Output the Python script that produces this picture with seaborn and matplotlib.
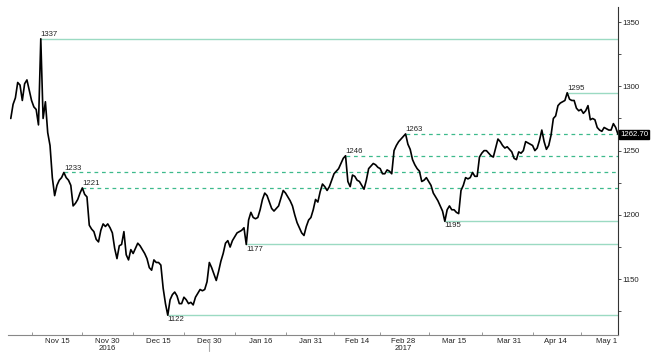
import numpy as np
import pandas as pd
import matplotlib
matplotlib.use("Agg")
import matplotlib.pyplot as plt
import seaborn as sns

# ---------------- data ----------------
start_date = "2016-11-01"
end_date = "2017-05-03"
# two readings per business day (morning, afternoon)
prices = [
    1275, 1286, 1291, 1303, 1301, 1289, 1302, 1305, 1297, 1289,
    1284, 1282, 1270, 1337, 1275, 1288, 1264, 1254, 1229, 1215,
    1223, 1227, 1229, 1233, 1229, 1227, 1223, 1207, 1209, 1212,
    1217, 1221, 1216, 1214, 1192, 1189, 1187, 1181, 1179, 1188,
    1193, 1191, 1193, 1190, 1186, 1174, 1166, 1176, 1177, 1187,
    1169, 1165, 1173, 1170, 1174, 1178, 1176, 1173, 1170, 1166,
    1159, 1157, 1165, 1163, 1163, 1161, 1143, 1131, 1122, 1134,
    1138, 1140, 1137, 1131, 1131, 1136, 1134, 1131, 1132, 1130,
    1136, 1139, 1142, 1141, 1142, 1148, 1163, 1159, 1154, 1149,
    1156, 1164, 1170, 1178, 1180, 1175, 1180, 1183, 1186, 1187,
    1188, 1190, 1177, 1196, 1202, 1198, 1197, 1198, 1204, 1212,
    1217, 1215, 1210, 1205, 1203, 1205, 1207, 1213, 1219, 1217,
    1214, 1211, 1207, 1200, 1194, 1190, 1186, 1184, 1191, 1196,
    1198, 1204, 1212, 1210, 1218, 1224, 1222, 1219, 1222, 1227,
    1232, 1234, 1236, 1240, 1244, 1246, 1226, 1222, 1231, 1230,
    1227, 1226, 1223, 1220, 1227, 1236, 1238, 1240, 1239, 1237,
    1236, 1232, 1232, 1235, 1234, 1232, 1250, 1254, 1257, 1259,
    1261, 1263, 1255, 1251, 1243, 1239, 1236, 1234, 1226, 1227,
    1229, 1226, 1223, 1217, 1214, 1211, 1207, 1203, 1195, 1204,
    1207, 1204, 1204, 1202, 1201, 1219, 1223, 1229, 1228, 1229,
    1233, 1230, 1230, 1245, 1248, 1250, 1250, 1248, 1246, 1245,
    1252, 1259, 1257, 1254, 1252, 1253, 1251, 1249, 1244, 1243,
    1249, 1248, 1250, 1257, 1256, 1255, 1254, 1250, 1252, 1258,
    1266, 1257, 1251, 1254, 1262, 1275, 1277, 1285, 1287, 1288,
    1289, 1295, 1290, 1289, 1289, 1283, 1281, 1282, 1279, 1281,
    1285, 1274, 1275, 1274, 1268, 1266, 1265, 1268, 1267, 1266,
    1266, 1271, 1268, 1262.7,
]

level_values = [1337, 1233, 1221, 1122, 1177, 1246, 1263, 1195, 1295]
level_times = ["2016-11-09 12:00", "2016-11-16 12:00", "2016-11-22 12:00",
               "2016-12-19 00:00", "2017-01-11 00:00", "2017-02-09 12:00",
               "2017-02-28 12:00", "2017-03-13 00:00", "2017-04-18 12:00"]
level_styles = ["solid", "dashed", "dashed", "solid", "solid", "dashed",
                "dashed", "solid", "solid"]
level_kind = ["high", "high", "high", "low", "low", "high", "high", "low", "high"]

tick_dates = ["2016-11-15", "2016-11-30", "2016-12-15", "2016-12-30",
              "2017-01-16", "2017-01-31", "2017-02-14", "2017-02-28",
              "2017-03-15", "2017-03-31", "2017-04-14", "2017-05-01"]
tick_labels = ["Nov 15", "Nov 30\n2016", "Dec 15", "Dec 30", "Jan 16", "Jan 31",
               "Feb 14", "Feb 28\n2017", "Mar 15", "Mar 31", "Apr 14", "May 1"]
last_label = "1262.70"

# ---------------- positions on a business-day axis ----------------
bdays = pd.bdate_range(start_date, end_date)
bpos = {d: i for i, d in enumerate(bdays)}
times = []
for d in bdays:
    times.append(d)
    times.append(d + pd.Timedelta(hours=12))


def to_pos(t):
    t = pd.Timestamp(t)
    return bpos[t.normalize()] + t.hour / 24.0


df = pd.DataFrame({"pos": [to_pos(t) for t in times], "price": prices})

# ---------------- figure ----------------
sns.set_style("white")
plt.rcParams["font.family"] = ["Liberation Sans", "DejaVu Sans"]
fig = plt.figure(figsize=(6.53, 3.53), dpi=100)
ax = fig.add_axes([8 / 653, 1 - 335 / 353, 610 / 653, 328 / 353])

solid_c = "#9bdac2"
dash_c = "#3dba8c"
fs = 5.6
x_right = df["pos"].max()
for val, t, st, kind in zip(level_values, level_times, level_styles, level_kind):
    x0 = to_pos(t)
    ax.plot([x0, x_right], [val, val], color=solid_c if st == "solid" else dash_c,
            lw=1.0 if st == "solid" else 0.9,
            linestyle="-" if st == "solid" else (0, (3, 3)), zorder=1)
    if kind == "high":
        ax.text(x0, val + 0.6, f"{val}", fontsize=fs, color="#222222",
                ha="left", va="bottom")
    else:
        ax.text(x0, val - 0.8, f"{val}", fontsize=fs, color="#222222",
                ha="left", va="top")

sns.lineplot(data=df, x="pos", y="price", ax=ax, color="black", lw=1.2,
             estimator=None, sort=False, zorder=3)

ax.set_xlim(-0.6, x_right)
ax.set_ylim(1106.6, 1361.7)
ax.set_xlabel("")
ax.set_ylabel("")

# y axis on the right
ax.yaxis.tick_right()
ax.set_yticks([1150, 1200, 1250, 1300, 1350])
ax.set_yticks([1125, 1175, 1225, 1275, 1325], minor=True)
ax.tick_params(axis="y", which="both", direction="out", length=2, width=0.6,
               color="#333333", labelsize=fs, labelcolor="#222222", pad=1,
               right=True, left=False)

# x axis
tpos = [to_pos(t) for t in tick_dates]
ax.set_xticks(tpos)
ax.set_xticklabels(tick_labels)
mids = [(a + b) / 2 for a, b in zip(tpos[:-1], tpos[1:])]
mids = [tpos[0] - (tpos[1] - tpos[0]) / 2] + mids
ax.set_xticks(mids, minor=True)
ax.tick_params(axis="x", which="major", length=0, labelsize=fs,
               labelcolor="#222222", pad=2)
ax.tick_params(axis="x", which="minor", direction="in", length=2.5,
               width=0.6, color="#888888", bottom=True)
for lab in ax.get_xticklabels():
    lab.set_linespacing(0.95)

for s in ["top", "left"]:
    ax.spines[s].set_visible(False)
ax.spines["bottom"].set_color("#888888")
ax.spines["bottom"].set_linewidth(0.8)
ax.spines["right"].set_color("#333333")
ax.spines["right"].set_linewidth(0.8)

# year separator below the axis
yr_x = to_pos("2016-12-30")
ax.plot([yr_x, yr_x], [-0.015, -0.05], transform=ax.get_xaxis_transform(),
        color="#aaaaaa", lw=0.8, clip_on=False)

# last price box
ax.annotate(last_label, xy=(1.0, prices[-1]), xycoords=("axes fraction", "data"),
            xytext=(1.5, 0), textcoords="offset points", fontsize=fs,
            color="white", ha="left", va="center",
            bbox=dict(boxstyle="square,pad=0.12", fc="black", ec="black"),
            annotation_clip=False)

fig.savefig("out.png", dpi=100, facecolor="white")
